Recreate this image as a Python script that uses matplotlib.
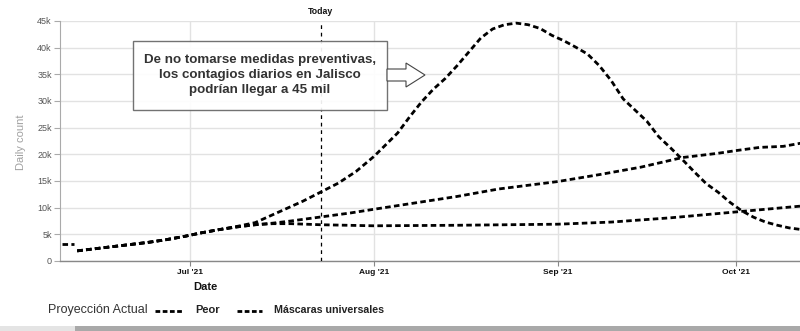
import matplotlib
matplotlib.use("Agg")
import matplotlib.pyplot as plt
import matplotlib.dates as mdates
from matplotlib.patches import Rectangle, Polygon
from matplotlib.lines import Line2D
from matplotlib.ticker import FixedLocator, FuncFormatter
import pandas as pd

plt.rcParams['font.family'] = ['Liberation Sans', 'DejaVu Sans']

# ---- data (daily cases, thousands) ----
reported_dates = ['2021-06-09 12:00', '2021-06-11 12:00']
reported_vals = [3.2, 3.2]

worst_dates = ['2021-06-12', '2021-06-15', '2021-06-18', '2021-06-21', '2021-06-24',
               '2021-06-27', '2021-06-30', '2021-07-03', '2021-07-06', '2021-07-09',
               '2021-07-12', '2021-07-14', '2021-07-17', '2021-07-20', '2021-07-23',
               '2021-07-26', '2021-07-29', '2021-08-01', '2021-08-03', '2021-08-05',
               '2021-08-07', '2021-08-09', '2021-08-11', '2021-08-13', '2021-08-15',
               '2021-08-17', '2021-08-19', '2021-08-21', '2021-08-23', '2021-08-25',
               '2021-08-27', '2021-08-29', '2021-08-31', '2021-09-02', '2021-09-04',
               '2021-09-06', '2021-09-08', '2021-09-10', '2021-09-12', '2021-09-14',
               '2021-09-16', '2021-09-18', '2021-09-20', '2021-09-22', '2021-09-24',
               '2021-09-26', '2021-09-28', '2021-09-30', '2021-10-02', '2021-10-04',
               '2021-10-06', '2021-10-08', '2021-10-10', '2021-10-12']
worst_vals = [1.9, 2.3, 2.7, 3.1, 3.5,
              4.0, 4.6, 5.3, 5.9, 6.5,
              7.2, 8.2, 9.7, 11.2, 12.9,
              14.6, 16.8, 19.6, 21.8, 24.0,
              27.0, 29.8, 32.2, 34.2, 36.6,
              39.2, 41.8, 43.5, 44.3, 44.6,
              44.3, 43.6, 42.3, 41.3, 40.1,
              38.8, 36.6, 33.8, 30.4, 28.3,
              26.2, 23.3, 21.2, 19.0, 16.7,
              14.5, 12.9, 11.0, 9.4, 8.2,
              7.3, 6.7, 6.2, 5.9]

current_dates = ['2021-06-12', '2021-06-15', '2021-06-18', '2021-06-21', '2021-06-24',
                 '2021-06-27', '2021-06-30', '2021-07-03', '2021-07-06', '2021-07-09',
                 '2021-07-12', '2021-07-15', '2021-07-18', '2021-07-23', '2021-07-28',
                 '2021-08-01', '2021-08-08', '2021-08-15', '2021-08-22', '2021-09-01',
                 '2021-09-08', '2021-09-15', '2021-09-22', '2021-09-28', '2021-10-01',
                 '2021-10-05', '2021-10-09', '2021-10-12']
current_vals = [1.9, 2.3, 2.7, 3.1, 3.5,
                4.0, 4.6, 5.3, 5.9, 6.4,
                6.8, 7.1, 7.5, 8.25, 9.0,
                9.7, 10.9, 12.1, 13.5, 14.9,
                16.2, 17.6, 19.4, 20.2, 20.7,
                21.3, 21.5, 22.1]

masks_dates = ['2021-06-12', '2021-06-15', '2021-06-18', '2021-06-21', '2021-06-24',
               '2021-06-27', '2021-06-30', '2021-07-03', '2021-07-06', '2021-07-09',
               '2021-07-12', '2021-07-15', '2021-07-18', '2021-07-23', '2021-08-01',
               '2021-08-15', '2021-09-01', '2021-09-10', '2021-09-20', '2021-10-01',
               '2021-10-12']
masks_vals = [1.9, 2.3, 2.7, 3.1, 3.5,
              4.0, 4.6, 5.3, 5.9, 6.4,
              6.8, 7.0, 7.0, 6.8, 6.6,
              6.7, 6.9, 7.3, 8.1, 9.2,
              10.3]

today_date = '2021-07-23'
month_ticks = ['2021-07-01', '2021-08-01', '2021-09-01', '2021-10-01']
month_labels = ["Jul '21", "Aug '21", "Sep '21", "Oct '21"]
y_ticks = [0, 5000, 10000, 15000, 20000, 25000, 30000, 35000, 40000, 45000]

series_names = ['Proyección Actual', 'Peor', 'Máscaras universales']
note_text = ("De no tomarse medidas preventivas,\n"
             "los contagios diarios en Jalisco\n"
             "podrían llegar a 45 mil")

# ---- figure ----
W, H = 800, 331
fig = plt.figure(figsize=(W / 100, H / 100), dpi=100)


def fx(px):
    return px / W


def fy(py):
    return 1 - py / H


ax = fig.add_axes([fx(60), fy(261), 1 - fx(60), fy(21) - fy(261)])

dash = dict(color='black', lw=2.0, dashes=(2.0, 1.2), solid_capstyle='butt')
key_dash = dict(color='black', lw=2.0, dashes=(1.7, 0.9), solid_capstyle='butt')


def to_num(ds):
    return mdates.date2num(pd.to_datetime(ds))


ax.plot(to_num(reported_dates), [v * 1000 for v in reported_vals], **dash)
ax.plot(to_num(current_dates), [v * 1000 for v in current_vals], **dash)
ax.plot(to_num(masks_dates), [v * 1000 for v in masks_vals], **dash)
ax.plot(to_num(worst_dates), [v * 1000 for v in worst_vals], **dash)

jul1 = to_num('2021-07-01')
ax.set_xlim(jul1 - 21.9, jul1 + 102.8)
ax.set_ylim(0, 45000)

ax.yaxis.set_major_locator(FixedLocator(y_ticks))
ax.yaxis.set_major_formatter(FuncFormatter(lambda v, p: '0' if v == 0 else f'{int(v / 1000)}k'))
ax.set_xticks(to_num(month_ticks))
ax.set_xticklabels(month_labels)

ax.tick_params(axis='y', length=4, width=0.8, color='#aaaaaa', labelsize=6.5,
               labelcolor='#555555', pad=2)
ax.tick_params(axis='x', length=3.5, width=0.8, color='#888888', labelsize=6,
               labelcolor='#111111', pad=2.5)
for lbl in ax.get_xticklabels():
    lbl.set_fontweight('bold')

ax.grid(True, color='#e2e2e2', lw=1)
ax.set_axisbelow(True)
for s in ['top', 'right']:
    ax.spines[s].set_visible(False)
ax.spines['left'].set_color('#aaaaaa')
ax.spines['bottom'].set_color('#888888')
ax.spines['left'].set_linewidth(0.8)
ax.spines['bottom'].set_linewidth(1.0)

ax.set_xlabel('Date', fontsize=8, fontweight='bold', color='#111111')
ax.xaxis.set_label_coords((205 - 60) / 740, (261 - 287) / 240)
ax.xaxis.label.set_va('center')
ax.set_ylabel('Daily count', fontsize=8, color='#a0a0a0')
ax.yaxis.set_label_coords((21 - 60) / 740, (261 - 142) / 240)
ax.yaxis.label.set_va('center')

# today marker
today = to_num(today_date)
ax.axvline(today, color='black', lw=0.9, ls=(0, (3, 3)), zorder=3)
ax.annotate('Today', xy=(today, 1), xycoords=('data', 'axes fraction'),
            xytext=(0, 6.5), textcoords='offset points', ha='center', va='center',
            fontsize=6.3, fontweight='bold', color='#111111')

# callout box with arrow
fig.add_artist(Rectangle((fx(133), fy(110)), fx(387) - fx(133), fy(41) - fy(110),
                         transform=fig.transFigure, facecolor='white', alpha=0.92,
                         edgecolor='#666666', lw=1.0, zorder=5))
fig.text(fx(260), fy(75), note_text, ha='center', va='center', fontsize=9.6,
         fontweight='bold', color='#333333', linespacing=1.3, zorder=6)
arrow_px = [(387, 69), (406, 69), (406, 63), (425, 75), (406, 87), (406, 81), (387, 81)]
fig.add_artist(Polygon([(fx(a), fy(b)) for a, b in arrow_px], closed=True,
                       transform=fig.transFigure, facecolor='white',
                       edgecolor='#444444', lw=0.8, zorder=6))

# legend row
leg_y = 310
fig.text(fx(48), fy(leg_y), series_names[0], ha='left', va='center', fontsize=9,
         color='#333333')
fig.add_artist(Line2D([fx(155), fx(183)], [fy(leg_y + 1)] * 2, transform=fig.transFigure, **key_dash))
fig.text(fx(195), fy(leg_y), series_names[1], ha='left', va='center', fontsize=8,
         fontweight='bold', color='#222222')
fig.add_artist(Line2D([fx(237), fx(262)], [fy(leg_y + 1)] * 2, transform=fig.transFigure, **key_dash))
fig.text(fx(274), fy(leg_y), series_names[2], ha='left', va='center', fontsize=7.7,
         fontweight='bold', color='#222222')

# footer strip
fig.add_artist(Rectangle((0, 0), fx(75), 5 / H, transform=fig.transFigure,
                         facecolor='#e4e4e4', edgecolor='none', zorder=1))
fig.add_artist(Rectangle((fx(75), 0), 1 - fx(75), 5 / H, transform=fig.transFigure,
                         facecolor='#a9a9a9', edgecolor='none', zorder=1))

fig.savefig('out.png', dpi=100)
